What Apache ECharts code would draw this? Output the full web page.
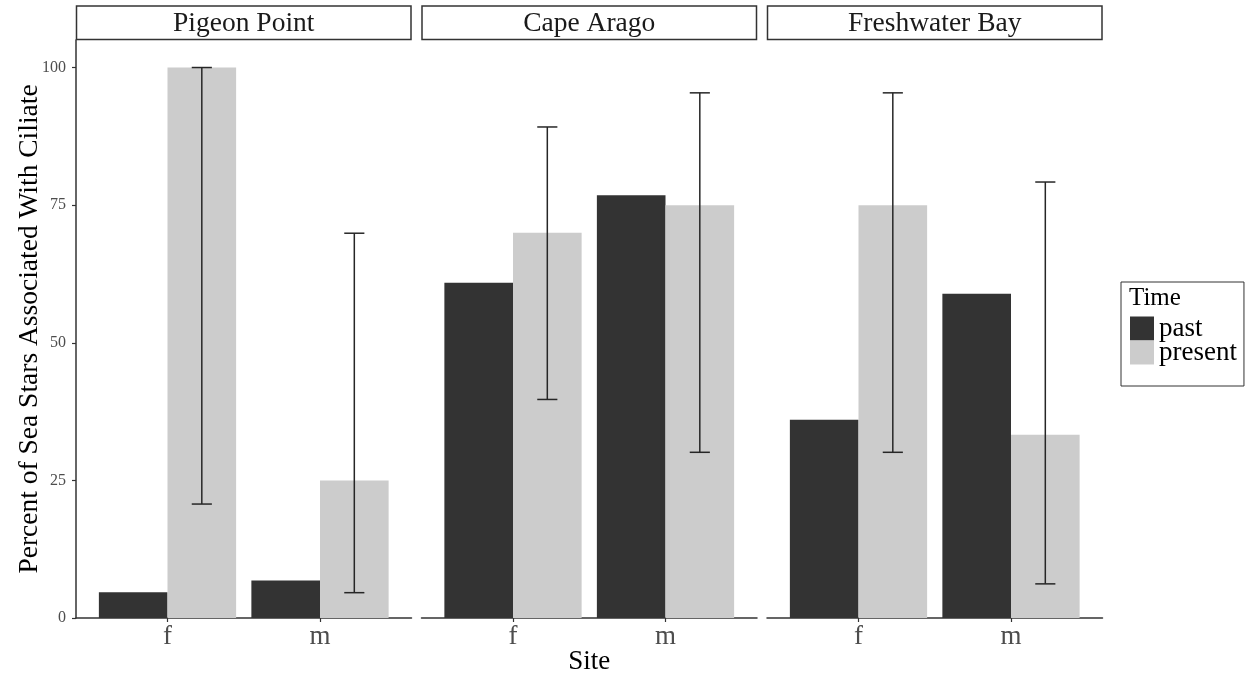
<!DOCTYPE html>
<html>
<head>
<meta charset="utf-8">
<script src="https://cdn.jsdelivr.net/npm/echarts@6/dist/echarts.min.js"></script>
<style>html,body{margin:0;padding:0;background:#fff;}#chart{width:1249px;height:676px;}</style>
</head>
<body>
<div id="chart"></div>
<script>
// ---- data ----
const sites = ['Pigeon Point', 'Cape Arago', 'Freshwater Bay'];
const sexes = ['f', 'm'];
const times = ['past', 'present'];
const pastPct = [[4.7, 6.8], [60.9, 76.8], [36.0, 58.9]];
const presentPct = [[100, 25], [70, 75], [75, 33.3]];
const presentLow = [[20.7, 4.6], [39.7, 30.1], [30.1, 6.2]];
const presentHigh = [[100, 69.9], [89.2, 95.4], [95.4, 79.2]];
const yTicks = [0, 25, 50, 75, 100];
const xTicks = [1, 2];

// ---- layout / style ----
const FONT = 'Liberation Serif';
const panelLefts = [76, 421.5, 767];
const panelWidth = 335.5;
const panelTop = 40;
const panelBottom = 58;
const colors = { past: '#333333', present: '#cccccc' };
const dodge = 0.45;
const capHalf = 0.066;

const chart = echarts.init(document.getElementById('chart'), null, { renderer: 'canvas' });

const grids = [], xAxes = [], yAxes = [], series = [], graphics = [];

function barRenderer(o0, o1) {
  return function (params, api) {
    const x = api.value(0), v = api.value(1);
    const p0 = api.coord([x + o0, v]);
    const p1 = api.coord([x + o1, 0]);
    return {
      type: 'rect',
      shape: { x: p0[0], y: p0[1], width: p1[0] - p0[0], height: p1[1] - p0[1] },
      style: { fill: api.visual('color') }
    };
  };
}

function errRenderer(params, api) {
  const x = api.value(0) + dodge / 2, lo = api.value(1), hi = api.value(2);
  const top = api.coord([x, hi]), bot = api.coord([x, lo]);
  const l = api.coord([x - capHalf, hi])[0], r = api.coord([x + capHalf, hi])[0];
  const st = { stroke: '#262626', lineWidth: 1.5 };
  return {
    type: 'group',
    children: [
      { type: 'line', shape: { x1: top[0], y1: top[1], x2: bot[0], y2: bot[1] }, style: st },
      { type: 'line', shape: { x1: l, y1: top[1], x2: r, y2: top[1] }, style: st },
      { type: 'line', shape: { x1: l, y1: bot[1], x2: r, y2: bot[1] }, style: st }
    ]
  };
}

sites.forEach((site, i) => {
  grids.push({ left: panelLefts[i], width: panelWidth, top: panelTop, bottom: panelBottom, containLabel: false, outerBoundsMode: 'none' });
  xAxes.push({
    type: 'value', gridIndex: i, min: 0.4, max: 2.6,
    splitLine: { show: false },
    axisLine: { show: true, lineStyle: { color: '#333333', width: 1.5 } },
    axisTick: { show: true, customValues: xTicks, length: 4, lineStyle: { color: '#333333', width: 1.2 } },
    axisLabel: {
      customValues: xTicks, formatter: v => sexes[Math.round(v) - 1] || '',
      color: '#4d4d4d', fontFamily: FONT, fontSize: 27, margin: 5
    },
    name: i === 1 ? 'Site' : '',
    nameLocation: 'middle', nameGap: 30, nameMoveOverlap: false,
    nameTextStyle: { color: '#000', fontFamily: FONT, fontSize: 27 }
  });
  yAxes.push({
    type: 'value', gridIndex: i, min: 0, max: 105,
    splitLine: { show: false },
    axisLine: { show: i === 0, onZero: false, lineStyle: { color: '#333333', width: 1.5 } },
    axisTick: { show: i === 0, customValues: yTicks, length: 4, lineStyle: { color: '#333333', width: 1.2 } },
    axisLabel: { show: i === 0, customValues: yTicks, color: '#4d4d4d', fontFamily: FONT, fontSize: 16, margin: 10 },
    name: i === 0 ? 'Percent of Sea Stars Associated With Ciliate' : '',
    nameLocation: 'middle', nameGap: 32, nameMoveOverlap: false,
    nameTextStyle: { color: '#000', fontFamily: FONT, fontSize: 27.5 }
  });
  series.push({
    type: 'custom', name: 'past', xAxisIndex: i, yAxisIndex: i,
    itemStyle: { color: colors.past },
    renderItem: barRenderer(-dodge, 0), encode: { x: 0, y: 1 },
    data: sexes.map((s, j) => [xTicks[j], pastPct[i][j]])
  });
  series.push({
    type: 'custom', name: 'present', xAxisIndex: i, yAxisIndex: i,
    itemStyle: { color: colors.present },
    renderItem: barRenderer(0, dodge), encode: { x: 0, y: 1 },
    data: sexes.map((s, j) => [xTicks[j], presentPct[i][j]])
  });
  series.push({
    type: 'custom', name: 'ci', xAxisIndex: i, yAxisIndex: i, z: 5,
    renderItem: errRenderer, encode: { x: 0, y: [1, 2] },
    data: sexes.map((s, j) => [xTicks[j], presentLow[i][j], presentHigh[i][j]])
  });
  // facet strip
  graphics.push({
    type: 'rect', silent: true,
    shape: { x: panelLefts[i] + 0.5, y: 6, width: panelWidth - 1, height: 33.5 },
    style: { fill: '#ffffff', stroke: '#333333', lineWidth: 1.5 }
  });
  graphics.push({
    type: 'text', silent: true,
    style: {
      text: site, x: panelLefts[i] + panelWidth / 2, y: 23.5,
      textAlign: 'center', textVerticalAlign: 'middle',
      font: '27.5px "' + FONT + '"', fill: '#1a1a1a'
    }
  });
});

chart.setOption({
  animation: false,
  backgroundColor: '#ffffff',
  textStyle: { fontFamily: FONT },
  title: {
    text: 'Time', left: 1129, top: 286, padding: 0,
    textStyle: { fontFamily: FONT, fontSize: 25, fontWeight: 'normal', color: '#000' }
  },
  legend: {
    data: times, orient: 'vertical', left: 1121, top: 282,
    icon: 'rect', itemWidth: 24, itemHeight: 24, itemGap: -3,
    padding: [33, 7, 20, 9],
    borderColor: '#333333', borderWidth: 1,
    selectedMode: false,
    textStyle: { fontFamily: FONT, fontSize: 27, color: '#000' }
  },
  grid: grids, xAxis: xAxes, yAxis: yAxes, series: series, graphic: graphics
});
</script>
</body>
</html>
